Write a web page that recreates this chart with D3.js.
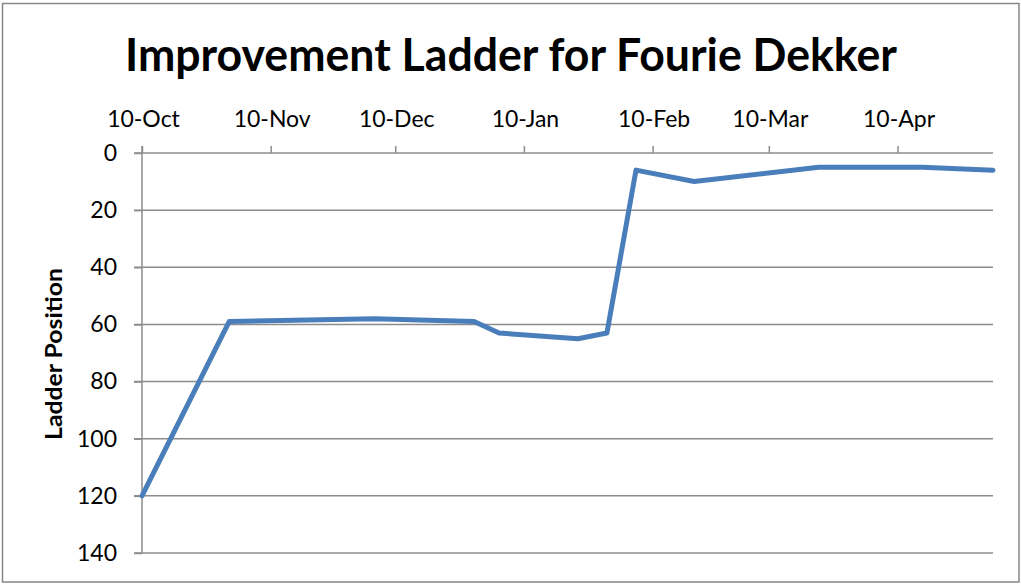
<!DOCTYPE html>
<html><head><meta charset="utf-8">
<script src="https://cdn.jsdelivr.net/npm/d3@7/dist/d3.min.js"></script>
<style>body{margin:0;background:#fff}svg{display:block}</style>
</head><body>
<svg id="c" width="1021" height="584"></svg>
<script>
const titleText = "Improvement Ladder for Fourie Dekker";
const yAxisTitle = "Ladder Position";
const dates = ["2010-10-10","2010-10-31","2010-12-05","2010-12-29","2011-01-04","2011-01-23","2011-01-30","2011-02-06","2011-02-20","2011-03-22","2011-04-16","2011-05-03"];
const positions = [120, 59, 58, 59, 63, 65, 63, 6, 10, 5, 5, 6];
const xTickDates = ["2010-10-10","2010-11-10","2010-12-10","2011-01-10","2011-02-10","2011-03-10","2011-04-10"];
const yTicks = [0, 20, 40, 60, 80, 100, 120, 140];

const parse = d3.timeParse("%Y-%m-%d");
const data = dates.map((d, i) => ({date: parse(d), v: positions[i]}));
const svg = d3.select("#c");
const font = "Lato, 'Open Sans', sans-serif";
const grid = "#8c8c8c";

svg.append("rect").attr("x", 2.5).attr("y", 3.5).attr("width", 1016.5).attr("height", 578.5)
  .attr("fill", "#fff").attr("stroke", "#868686").attr("stroke-width", 1.5);

const L = 142, R = 993, T = 153, B = 553;
const x = d3.scaleTime().domain([data[0].date, data[data.length-1].date]).range([L, R]);
const y = d3.scaleLinear().domain([0, 140]).range([T, B]);

// gridlines
svg.append("g").selectAll("line").data(yTicks).join("line")
  .attr("x1", L - 8).attr("x2", R).attr("y1", d => y(d)).attr("y2", d => y(d))
  .attr("stroke", grid).attr("stroke-width", 1.5);

// y axis
const ya = svg.append("g").attr("transform", `translate(${L},0)`)
  .call(d3.axisLeft(y).tickValues(yTicks).tickSize(8).tickPadding(17).tickFormat(d3.format("d")));
ya.select(".domain").remove();
ya.selectAll(".tick line").attr("stroke", grid).attr("stroke-width", 1.5);
ya.selectAll("text").attr("font-family", font).attr("font-size", 23).attr("fill", "#000");
svg.append("line").attr("x1", L).attr("x2", L).attr("y1", T - 7).attr("y2", B)
  .attr("stroke", grid).attr("stroke-width", 1.5);

// x axis (top)
const xa = svg.append("g").attr("transform", `translate(0,${T})`)
  .call(d3.axisTop(x).tickValues(xTickDates.map(parse)).tickSize(7).tickPadding(19).tickFormat(d3.timeFormat("%-d-%b")));
xa.select(".domain").remove();
xa.selectAll(".tick line").attr("stroke", grid).attr("stroke-width", 1.5);
xa.selectAll("text").attr("font-family", font).attr("font-size", 23).attr("fill", "#000")
  .attr("dx", 1);

// line
svg.append("path").datum(data)
  .attr("d", d3.line().x(d => x(d.date)).y(d => y(d.v)))
  .attr("fill", "none").attr("stroke", "#4a7ebb").attr("stroke-width", 5)
  .attr("stroke-linejoin", "round").attr("stroke-linecap", "round");

// title
svg.append("text").attr("x", 511).attr("y", 71).attr("text-anchor", "middle")
  .attr("font-family", font).attr("font-weight", "bold").attr("font-size", 46)
  .attr("textLength", 772).attr("lengthAdjust", "spacingAndGlyphs")
  .text(titleText);

// y axis title
svg.append("text").attr("transform", "translate(62,354) rotate(-90)").attr("text-anchor", "middle")
  .attr("font-family", font).attr("font-weight", "bold").attr("font-size", 23)
  .attr("textLength", 172).attr("lengthAdjust", "spacingAndGlyphs")
  .text(yAxisTitle);
</script>
</body></html>
